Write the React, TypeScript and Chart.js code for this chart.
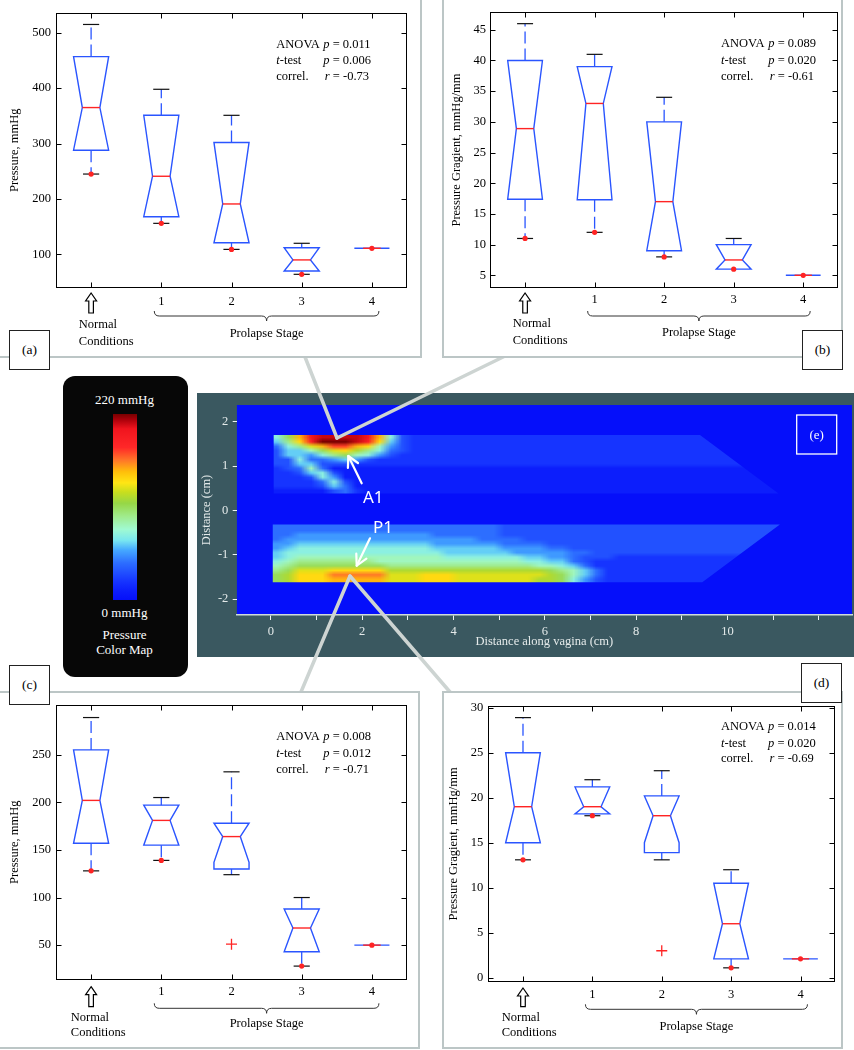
import React, { useEffect, useRef } from 'react';
import { Chart, registerables } from 'chart.js';

Chart.register(...registerables);

const SERIF = '"Liberation Serif", "Times New Roman", Times, serif';
const SANS = '"Noto Sans", "Liberation Sans", Arial, sans-serif';
const FS = 12.5;
const BLUE = '#2a55ff';
const RED = '#ff2424';
const TEAL = '#3a5860';

// ---------------- box-plot data ----------------
const groupPositions = [1, 2, 3, 4, 5];
const groupTickLabels = ['', '1', '2', '3', '4'];
const normalLabelLines = ['Normal', 'Conditions'];
const stageAxisLabel = 'Prolapse Stage';

// (a) anterior peak pressure
const aWhiskerHi = [515, 398, 351, 120, 111];
const aQ3 = [457, 351, 302, 112, 111];
const aNotchHi = [457, 351, 302, 112, 111];
const aMedian = [365, 241, 191, 90, 111];
const aNotchLo = [288, 168, 121, 70, 111];
const aQ1 = [288, 168, 121, 70, 111];
const aWhiskerLo = [245, 156, 109, 64, 111];
const aDots = [245, 156, 109, 64, 111];
const aOutliers = [null, null, null, null, null];
const aYTicks = [100, 200, 300, 400, 500];
const aStats = ['0.011', '0.006', '-0.73'];

// (b) anterior pressure gradient
const bWhiskerHi = [46, 41, 34, 11, 5];
const bQ3 = [40, 39, 30, 10, 5];
const bNotchHi = [40, 39, 30, 10, 5];
const bMedian = [28.9, 33, 17, 7.5, 5];
const bNotchLo = [17.4, 17.3, 9, 6, 5];
const bQ1 = [17.4, 17.3, 9, 6, 5];
const bWhiskerLo = [11, 12, 8, 6, 5];
const bDots = [11, 12, 8, 6, 5];
const bOutliers = [null, null, null, null, null];
const bYTicks = [5, 10, 15, 20, 25, 30, 35, 40, 45];
const bStats = ['0.089', '0.020', '-0.61'];

// (c) posterior peak pressure
const cWhiskerHi = [289, 205, 232, 100, 50];
const cQ3 = [255, 197, 178, 88, 50];
const cNotchHi = [255, 197, 178, 88, 50];
const cMedian = [202, 181, 164, 68, 50];
const cNotchLo = [157, 155, 137, 43, 50];
const cQ1 = [157, 155, 130, 43, 50];
const cWhiskerLo = [128, 139, 124, 28, 50];
const cDots = [128, 139, null, 28, 50];
const cOutliers = [null, null, 51, null, null];
const cYTicks = [50, 100, 150, 200, 250];
const cStats = ['0.008', '0.012', '-0.71'];

// (d) posterior pressure gradient
const dWhiskerHi = [28.9, 22, 23, 12, 2.1];
const dQ3 = [25, 21.2, 20.2, 10.5, 2.1];
const dNotchHi = [25, 21.2, 20.2, 10.5, 2.1];
const dMedian = [19, 19, 18, 6, 2.1];
const dNotchLo = [15, 18.2, 15, 2.1, 2.1];
const dQ1 = [15, 18.2, 13.9, 2.1, 2.1];
const dWhiskerLo = [13.1, 18, 13.1, 1.1, 2.1];
const dDots = [13.1, 18, null, 1.1, 2.1];
const dOutliers = [null, null, 3, null, null];
const dYTicks = [0, 5, 10, 15, 20, 25, 30];
const dStats = ['0.014', '0.020', '-0.69'];

// ---------------- heat map data ----------------
const heatXMin = -0.75, heatXMax = 12.73, heatYMin = -2.36, heatYMax = 2.38;
const heatXTicks = [0, 1, 2, 3, 4, 5, 6, 7, 8, 9, 10, 11, 12];
const heatXTickLabels = ['0', '', '2', '', '4', '', '6', '', '8', '', '10', '', ''];
const heatYTicks = [-2, -1, 0, 1, 2];
// outlines of the two contact bands (cm)
const heatBandUpperX = [0.06, 9.4, 11.12, 0.06];
const heatBandUpperY = [1.7, 1.7, 0.38, 0.38];
const heatBandLowerX = [0.04, 11.15, 9.45, 0.04];
const heatBandLowerY = [-0.32, -0.32, -1.62, -1.62];
const heatGridX0 = 0, heatGridDX = 0.25, heatGridY0 = 1.8, heatGridDY = 0.1;
const heatLevelChars = '0123456789abcdefghijk';
const heatLevelStep = 11; // mmHg per level
const heatMaxValue = 220;
// rows from y=1.8 (top) down to y=-1.8, columns x=0..11.5 (0.25 cm)
const heatRows = [
  '7aeijjjjie 7322222222 2222222222 2222222222 222222',
  '7aeijjjjie 7322222222 2222222222 2222222222 222222',
  '69dhkkkjhd 6322222222 2222222222 2222222222 222222',
  '479cegged8 5322222222 2222222222 2222222222 222222',
  '3668acdb97 4322222222 2222222222 2222222222 222222',
  '366579a875 3222222222 2222222222 2222222222 222222',
  '3374456532 2222222222 2222222222 2222222222 222222',
  '3366333222 2222222222 2222222222 2222222222 222222',
  '2348411111 1111111111 1111111111 1111111111 111111',
  '2236731111 1111111111 1111111111 1111111111 111111',
  '2223751111 1111111111 1111111111 1111111111 111111',
  '2222473111 1111111111 1111111111 1111111111 111111',
  '2222364111 1111111111 1111111111 1111111111 111111',
  '1111134211 1111111111 1111111111 1111111111 111111',
  '1111134211 1111111111 1111111111 1111111111 111111',
  '0000000000 0000000000 0000000000 0000000000 000000',
  '0000000000 0000000000 0000000000 0000000000 000000',
  '0000000000 0000000000 0000000000 0000000000 000000',
  '0000000000 0000000000 0000000000 0000000000 000000',
  '0000000000 0000000000 0000000000 0000000000 000000',
  '4444444444 4444444444 3333333333 3333333333 333333',
  '4444444444 4444444444 3333333333 3333333333 333333',
  '4444444444 4444444444 3333333333 3333333333 333333',
  '4455555555 5555444444 3333333333 3333333333 333333',
  '4555555555 5555555544 4433333333 3333333333 333333',
  '5566666666 6666555555 4444333333 3333333333 333333',
  '5677777777 7777666666 5555443333 3333333333 333333',
  '6777777777 7777766666 6555554433 3333333333 333333',
  '6788888888 8888877777 7766554333 2222222222 222222',
  '7899999998 8888888888 8877664322 2222222222 222222',
  '89aaaaaaaa 9999999999 9998876422 2222222222 222222',
  '9acccddddd bbbbbbbbbb bbbba98642 2222222222 222222',
  'abdddfffff cccdddcccc ccccba8642 2222222222 222222',
  'abdddeeeee cccdddcccc cccbba7532 2222222222 222222',
  'abdddeeeee cccdddcccc cccbba7532 2222222222 222222',
  '0000000000 0000000000 0000000000 0000000000 000000',
];

// colour map (fraction of 220 mmHg -> rgb)
const cmapStops = [0, 0.05, 0.1, 0.2, 0.27, 0.32, 0.38, 0.45, 0.52, 0.58, 0.63, 0.69, 0.75, 0.82, 0.92, 0.97, 1];
const cmapColors = [
  [5, 15, 250], [12, 30, 252], [22, 52, 255], [45, 110, 255], [70, 170, 255], [120, 230, 240],
  [160, 250, 210], [160, 235, 140], [150, 215, 70], [200, 222, 30], [255, 230, 20], [255, 190, 10],
  [255, 120, 40], [255, 40, 40], [240, 20, 30], [170, 0, 10], [120, 0, 0],
];

function cmap(t: number): number[] {
  const tt = Math.max(0, Math.min(1, t));
  for (let i = 1; i < cmapStops.length; i++) {
    if (tt <= cmapStops[i]) {
      const f = (tt - cmapStops[i - 1]) / (cmapStops[i] - cmapStops[i - 1]);
      const a = cmapColors[i - 1], b = cmapColors[i];
      return [a[0] + (b[0] - a[0]) * f, a[1] + (b[1] - a[1]) * f, a[2] + (b[2] - a[2]) * f];
    }
  }
  return cmapColors[cmapColors.length - 1];
}

// ---------------- panels ----------------
const panelA = {
  whiskerHi: aWhiskerHi, q3: aQ3, notchHi: aNotchHi, median: aMedian, notchLo: aNotchLo, q1: aQ1,
  whiskerLo: aWhiskerLo, dots: aDots, outliers: aOutliers, yTicks: aYTicks, stats: aStats,
  yMin: 39.3, yMax: 536.6, yTitle: 'Pressure, mmHg',
};
const panelB = {
  whiskerHi: bWhiskerHi, q3: bQ3, notchHi: bNotchHi, median: bMedian, notchLo: bNotchLo, q1: bQ1,
  whiskerLo: bWhiskerLo, dots: bDots, outliers: bOutliers, yTicks: bYTicks, stats: bStats,
  yMin: 2.93, yMax: 47.9, yTitle: 'Pressure Gragient, mmHg/mm',
};
const panelC = {
  whiskerHi: cWhiskerHi, q3: cQ3, notchHi: cNotchHi, median: cMedian, notchLo: cNotchLo, q1: cQ1,
  whiskerLo: cWhiskerLo, dots: cDots, outliers: cOutliers, yTicks: cYTicks, stats: cStats,
  yMin: 13.4, yMax: 302.7, yTitle: 'Pressure, mmHg',
};
const panelD = {
  whiskerHi: dWhiskerHi, q3: dQ3, notchHi: dNotchHi, median: dMedian, notchLo: dNotchLo, q1: dQ1,
  whiskerLo: dWhiskerLo, dots: dDots, outliers: dOutliers, yTicks: dYTicks, stats: dStats,
  yMin: -0.44, yMax: 30.19, yTitle: 'Pressure Gragient, mmHg/mm',
};

const geomA = { x: 0, y: 0, w: 421, h: 357, yAxisW: 56, padTop: 12, padRight: 14, xAxisH: 69, xLabelPad: 6.5, yLabelPad: 5, yTitlePad: 7.5,
  normalDX: -12.3, normalY1: 37, normalY2: 53.7, arrowTop: 5, arrowBot: 25, braceY: 28, prolY: 45.3, statsXA: 276.3, statsXP: 323.3, statsY: [44.3, 60.7, 77] };
const geomB = { x: 443, y: 0, w: 399, h: 357, yAxisW: 47.3, padTop: 12, padRight: 0.5, xAxisH: 69, xLabelPad: 4.5, yLabelPad: 4.3, yTitlePad: 6.2,
  normalDX: -12.4, normalY1: 36, normalY2: 53, arrowTop: 5, arrowBot: 25, braceY: 28, prolY: 45, statsXA: 278, statsXP: 325.3, statsY: [44, 61, 77] };
const geomC = { x: 0, y: 692, w: 419, h: 356, yAxisW: 56, padTop: 11.3, padRight: 12, xAxisH: 68, xLabelPad: 4.2, yLabelPad: 5, yTitlePad: 7.5,
  normalDX: -20.3, normalY1: 37.3, normalY2: 52.7, arrowTop: 6.7, arrowBot: 26.7, braceY: 28.3, prolY: 43.3, statsXA: 276.3, statsXP: 323.3, statsY: [44.7, 61.3, 77.3] };
const geomD = { x: 443, y: 692, w: 399, h: 356, yAxisW: 45.3, padTop: 14, padRight: 2, xAxisH: 66.3, xLabelPad: 5.1, yLabelPad: 5, yTitlePad: 3.5,
  normalDX: -21.3, normalY1: 35.6, normalY2: 51, arrowTop: 6.3, arrowBot: 25, braceY: 27.6, prolY: 45, statsXA: 278, statsXP: 325, statsY: [34.7, 51.3, 67] };

function drawSegs(ctx: CanvasRenderingContext2D, segs: [string, boolean][], x: number, y: number) {
  let cx = x;
  for (const [t, it] of segs) {
    ctx.font = `${it ? 'italic ' : ''}${FS}px ${SERIF}`;
    ctx.fillText(t, cx, y);
    cx += ctx.measureText(t).width;
  }
}

function boxPlugin(d: any, g: any) {
  return {
    id: 'notchedBoxes',
    beforeDatasetsDraw(chart: any) {
      const { ctx, scales } = chart;
      const xs = scales.x, ys = scales.y;
      const unit = xs.getPixelForValue(2) - xs.getPixelForValue(1);
      const hw = unit * 0.25;
      const capHw = unit * 0.115;
      ctx.save();
      for (let i = 0; i < d.q3.length; i++) {
        const cx = xs.getPixelForValue(groupPositions[i]);
        const pHi = ys.getPixelForValue(d.whiskerHi[i]);
        const pQ3 = ys.getPixelForValue(d.q3[i]);
        const pNHi = ys.getPixelForValue(d.notchHi[i]);
        const pMed = ys.getPixelForValue(d.median[i]);
        const pNLo = ys.getPixelForValue(d.notchLo[i]);
        const pQ1 = ys.getPixelForValue(d.q1[i]);
        const pLo = ys.getPixelForValue(d.whiskerLo[i]);
        // whiskers
        ctx.strokeStyle = BLUE;
        ctx.lineWidth = 1.3;
        ctx.setLineDash([12, 5]);
        if (d.whiskerHi[i] > d.q3[i]) { ctx.beginPath(); ctx.moveTo(cx, pQ3); ctx.lineTo(cx, pHi); ctx.stroke(); }
        if (d.whiskerLo[i] < d.q1[i]) { ctx.beginPath(); ctx.moveTo(cx, pQ1); ctx.lineTo(cx, pLo); ctx.stroke(); }
        ctx.setLineDash([]);
        // caps
        ctx.strokeStyle = '#111';
        ctx.lineWidth = 1.2;
        if (d.whiskerHi[i] > d.q3[i]) { ctx.beginPath(); ctx.moveTo(cx - capHw, pHi); ctx.lineTo(cx + capHw, pHi); ctx.stroke(); }
        if (d.whiskerLo[i] < d.q1[i]) { ctx.beginPath(); ctx.moveTo(cx - capHw, pLo); ctx.lineTo(cx + capHw, pLo); ctx.stroke(); }
        // notched box
        ctx.strokeStyle = BLUE;
        ctx.lineWidth = 1.4;
        ctx.beginPath();
        ctx.moveTo(cx - hw, pQ3);
        ctx.lineTo(cx + hw, pQ3);
        ctx.lineTo(cx + hw, pNHi);
        ctx.lineTo(cx + hw / 2, pMed);
        ctx.lineTo(cx + hw, pNLo);
        ctx.lineTo(cx + hw, pQ1);
        ctx.lineTo(cx - hw, pQ1);
        ctx.lineTo(cx - hw, pNLo);
        ctx.lineTo(cx - hw / 2, pMed);
        ctx.lineTo(cx - hw, pNHi);
        ctx.closePath();
        ctx.stroke();
        // median
        ctx.strokeStyle = RED;
        ctx.lineWidth = 1.4;
        ctx.beginPath();
        ctx.moveTo(cx - hw / 2, pMed);
        ctx.lineTo(cx + hw / 2, pMed);
        ctx.stroke();
      }
      ctx.restore();
    },
    afterDraw(chart: any) {
      const { ctx, chartArea: ca, scales } = chart;
      const xs = scales.x, ys = scales.y;
      ctx.save();
      ctx.strokeStyle = '#000';
      ctx.lineWidth = 1;
      ctx.setLineDash([]);
      const L = Math.round(ca.left) + 0.5, R = Math.round(ca.right) - 0.5;
      const T = Math.round(ca.top) + 0.5, B = Math.round(ca.bottom) - 0.5;
      ctx.strokeRect(L, T, R - L, B - T);
      ctx.beginPath();
      for (const v of d.yTicks) {
        const py = Math.round(ys.getPixelForValue(v)) + 0.5;
        ctx.moveTo(L, py); ctx.lineTo(L + 5, py);
        ctx.moveTo(R, py); ctx.lineTo(R - 5, py);
      }
      for (const v of groupPositions) {
        const px = Math.round(xs.getPixelForValue(v)) + 0.5;
        ctx.moveTo(px, B); ctx.lineTo(px, B - 5);
        ctx.moveTo(px, T); ctx.lineTo(px, T + 5);
      }
      ctx.stroke();

      const bottom = ca.bottom;
      // outline arrow under "Normal Conditions"
      const ax = xs.getPixelForValue(groupPositions[0]);
      const top = bottom + g.arrowTop, bot = bottom + g.arrowBot, hb = top + 8;
      ctx.beginPath();
      ctx.moveTo(ax, top);
      ctx.lineTo(ax + 5.5, hb);
      ctx.lineTo(ax + 2.3, hb);
      ctx.lineTo(ax + 2.3, bot);
      ctx.lineTo(ax - 2.3, bot);
      ctx.lineTo(ax - 2.3, hb);
      ctx.lineTo(ax - 5.5, hb);
      ctx.closePath();
      ctx.fillStyle = '#fff';
      ctx.fill();
      ctx.lineWidth = 1.2;
      ctx.strokeStyle = '#000';
      ctx.stroke();

      // brace under stages
      const unit = xs.getPixelForValue(2) - xs.getPixelForValue(1);
      const bl = xs.getPixelForValue(groupPositions[1]) - 0.1 * unit;
      const br = xs.getPixelForValue(groupPositions[4]) + 0.1 * unit;
      const bm = xs.getPixelForValue(3.5);
      const by = bottom + g.braceY;
      ctx.beginPath();
      ctx.moveTo(bl, by - 5);
      ctx.quadraticCurveTo(bl, by, bl + 5, by);
      ctx.lineTo(bm - 5, by);
      ctx.quadraticCurveTo(bm, by, bm, by + 5);
      ctx.quadraticCurveTo(bm, by, bm + 5, by);
      ctx.lineTo(br - 5, by);
      ctx.quadraticCurveTo(br, by, br, by - 5);
      ctx.lineWidth = 1;
      ctx.strokeStyle = '#333';
      ctx.stroke();

      ctx.fillStyle = '#000';
      ctx.textBaseline = 'middle';
      ctx.font = `${FS}px ${SERIF}`;
      ctx.textAlign = 'left';
      ctx.fillText(normalLabelLines[0], ax + g.normalDX, bottom + g.normalY1);
      ctx.fillText(normalLabelLines[1], ax + g.normalDX, bottom + g.normalY2);
      ctx.textAlign = 'center';
      ctx.fillText(stageAxisLabel, bm, bottom + g.prolY);

      // statistics
      ctx.textAlign = 'left';
      drawSegs(ctx, [['ANOVA', false]], g.statsXA, g.statsY[0]);
      drawSegs(ctx, [['p', true], [' = ' + d.stats[0], false]], g.statsXP, g.statsY[0]);
      drawSegs(ctx, [['t', true], ['-test', false]], g.statsXA, g.statsY[1]);
      drawSegs(ctx, [['p', true], [' = ' + d.stats[1], false]], g.statsXP, g.statsY[1]);
      drawSegs(ctx, [['correl.', false]], g.statsXA, g.statsY[2]);
      drawSegs(ctx, [['r', true], [' = ' + d.stats[2], false]], g.statsXP + 1.5, g.statsY[2]);
      ctx.restore();
    },
  };
}

function makeBoxConfig(d: any, g: any): any {
  const dots = d.dots.map((v: any, i: number) => (v == null ? null : { x: groupPositions[i], y: v })).filter((p: any) => p);
  const outs = d.outliers.map((v: any, i: number) => (v == null ? null : { x: groupPositions[i], y: v })).filter((p: any) => p);
  return {
    type: 'scatter',
    data: {
      datasets: [
        { label: 'marker', data: dots, pointRadius: 2.6, pointBackgroundColor: RED, pointBorderColor: RED, pointBorderWidth: 0, showLine: false },
        { label: 'outlier', data: outs, pointStyle: 'cross', pointRadius: 5.5, pointBackgroundColor: RED, pointBorderColor: RED, pointBorderWidth: 1.3, showLine: false },
      ],
    },
    options: {
      animation: false,
      responsive: false,
      devicePixelRatio: 1,
      events: [],
      layout: { padding: { left: 0, top: g.padTop, right: g.padRight, bottom: 0 } },
      plugins: { legend: { display: false }, tooltip: { enabled: false } },
      scales: {
        x: {
          type: 'linear', position: 'bottom', min: 0.5, max: 5.5,
          grid: { display: false, drawTicks: false, tickLength: 0 }, border: { display: false },
          afterBuildTicks: (s: any) => { s.ticks = groupPositions.map((v) => ({ value: v })); },
          ticks: {
            autoSkip: false, maxRotation: 0, minRotation: 0, padding: g.xLabelPad, color: '#000',
            font: { family: SERIF, size: FS },
            callback: (_v: any, i: number) => groupTickLabels[i] ?? '',
          },
          afterFit: (s: any) => { s.height = g.xAxisH; },
        },
        y: {
          type: 'linear', position: 'left', min: d.yMin, max: d.yMax,
          grid: { display: false, drawTicks: false, tickLength: 0 }, border: { display: false },
          afterBuildTicks: (s: any) => { s.ticks = d.yTicks.map((v: number) => ({ value: v })); },
          ticks: { autoSkip: false, padding: g.yLabelPad, color: '#000', font: { family: SERIF, size: FS }, callback: (v: any) => String(v) },
          title: { display: true, text: d.yTitle, color: '#000', font: { family: SERIF, size: FS }, padding: { top: g.yTitlePad, bottom: 0 } },
          afterFit: (s: any) => { s.width = g.yAxisW; },
        },
      },
    },
    plugins: [boxPlugin(d, g)],
  };
}

function ChartCanvas({ x, y, w, h, make }: { x: number; y: number; w: number; h: number; make: () => any }) {
  const ref = useRef<HTMLCanvasElement | null>(null);
  useEffect(() => {
    const chart = new Chart(ref.current as HTMLCanvasElement, make());
    return () => chart.destroy();
  }, []);
  return <canvas ref={ref} width={w} height={h} style={{ position: 'absolute', left: x, top: y, width: w, height: h }} />;
}

const heatPlugin = {
  id: 'heatField',
  beforeDraw(chart: any) {
    const { ctx, chartArea: ca, scales } = chart;
    if (!ca) return;
    const xs = scales.x, ys = scales.y;
    ctx.save();
    ctx.beginPath();
    ctx.rect(ca.left, ca.top, ca.right - ca.left, ca.bottom - ca.top);
    ctx.clip();
    const bg = cmap(0);
    ctx.fillStyle = `rgb(${bg.map((v) => Math.round(v)).join(',')})`;
    ctx.fillRect(ca.left, ca.top, ca.right - ca.left, ca.bottom - ca.top);
    // clip to the two band outlines
    ctx.beginPath();
    for (const [bx, by] of [[heatBandUpperX, heatBandUpperY], [heatBandLowerX, heatBandLowerY]]) {
      bx.forEach((vx: number, i: number) => {
        const px = xs.getPixelForValue(vx), py = ys.getPixelForValue(by[i]);
        if (i === 0) ctx.moveTo(px, py); else ctx.lineTo(px, py);
      });
      ctx.closePath();
    }
    ctx.clip();
    const rows = heatRows.map((r) => r.replace(/ /g, ''));
    const nr = rows.length, nc = rows[0].length;
    const off = document.createElement('canvas');
    off.width = nc; off.height = nr;
    const octx = off.getContext('2d') as CanvasRenderingContext2D;
    const img = octx.createImageData(nc, nr);
    for (let r = 0; r < nr; r++) {
      for (let c = 0; c < nc; c++) {
        const lv = Math.max(0, heatLevelChars.indexOf(rows[r][c]));
        const col = cmap((lv * heatLevelStep) / heatMaxValue);
        const k = (r * nc + c) * 4;
        img.data[k] = col[0]; img.data[k + 1] = col[1]; img.data[k + 2] = col[2]; img.data[k + 3] = 255;
      }
    }
    octx.putImageData(img, 0, 0);
    const px0 = xs.getPixelForValue(heatGridX0);
    const px1 = xs.getPixelForValue(heatGridX0 + nc * heatGridDX);
    const py0 = ys.getPixelForValue(heatGridY0);
    const py1 = ys.getPixelForValue(heatGridY0 - nr * heatGridDY);
    ctx.imageSmoothingEnabled = true;
    ctx.drawImage(off, px0, py0, px1 - px0, py1 - py0);
    ctx.restore();
  },
};

function makeHeatConfig(): any {
  const tickColor = '#e4eaea';
  return {
    type: 'scatter',
    data: { datasets: [{ data: [] }] },
    options: {
      animation: false, responsive: false, devicePixelRatio: 1, events: [],
      layout: { padding: { left: 0, top: 8, right: 2, bottom: 0 } },
      plugins: { legend: { display: false }, tooltip: { enabled: false } },
      scales: {
        x: {
          type: 'linear', min: heatXMin, max: heatXMax,
          grid: { display: true, drawOnChartArea: false, drawTicks: true, tickLength: 5, color: '#eef2f2' },
          border: { display: true, color: '#cfdada', width: 1.5 },
          afterBuildTicks: (s: any) => { s.ticks = heatXTicks.map((v) => ({ value: v })); },
          ticks: { autoSkip: false, maxRotation: 0, padding: 4.2, color: tickColor, font: { family: SERIF, size: FS }, callback: (_v: any, i: number) => heatXTickLabels[i] ?? '' },
          title: { display: true, text: 'Distance along vagina (cm)', color: tickColor, font: { family: SERIF, size: FS }, padding: { top: 0, bottom: 7.5 } },
          afterFit: (s: any) => { s.height = 42; },
        },
        y: {
          type: 'linear', min: heatYMin, max: heatYMax,
          grid: { display: true, drawOnChartArea: false, drawTicks: true, tickLength: 4, color: '#eef2f2' },
          border: { display: false },
          afterBuildTicks: (s: any) => { s.ticks = heatYTicks.map((v) => ({ value: v })); },
          ticks: { autoSkip: false, padding: 4.4, color: tickColor, font: { family: SERIF, size: FS }, callback: (v: any) => String(v) },
          title: { display: true, text: 'Distance (cm)', color: tickColor, font: { family: SERIF, size: FS }, padding: { top: 2.2, bottom: 0 } },
          afterFit: (s: any) => { s.width = 39.7; },
        },
      },
    },
    plugins: [heatPlugin],
  };
}

function makeColorBarConfig(): any {
  return {
    type: 'bar',
    data: {
      labels: ['Pressure'],
      datasets: [{
        data: [[0, heatMaxValue]],
        borderWidth: 0,
        barPercentage: 1,
        categoryPercentage: 1,
        backgroundColor: (c: any) => {
          const ch = c.chart;
          const ys = ch.scales && ch.scales.y;
          if (!ys || !ch.chartArea) return 'rgb(255,0,0)';
          const grad = ch.ctx.createLinearGradient(0, ys.getPixelForValue(0), 0, ys.getPixelForValue(heatMaxValue));
          cmapStops.forEach((s, i) => {
            const col = cmapColors[i];
            grad.addColorStop(s, `rgb(${col[0]},${col[1]},${col[2]})`);
          });
          return grad;
        },
      }],
    },
    options: {
      animation: false, responsive: false, devicePixelRatio: 1, events: [],
      layout: { padding: 0 },
      plugins: { legend: { display: false }, tooltip: { enabled: false } },
      scales: { x: { display: false }, y: { display: false, min: 0, max: heatMaxValue } },
    },
  };
}

const legendTextStyle = (top: number): React.CSSProperties => ({
  position: 'absolute', left: 62, width: 125, top, height: 16, lineHeight: '16px', textAlign: 'center',
  color: '#fff', fontFamily: SERIF, fontSize: 13,
});

function LabelBox({ x, y, w, h, text }: { x: number; y: number; w: number; h: number; text: string }) {
  return (
    <div style={{ position: 'absolute', left: x, top: y, width: w, height: h, boxSizing: 'border-box', border: '1px solid #222', background: '#fff',
      display: 'flex', alignItems: 'center', justifyContent: 'center', fontFamily: SERIF, fontSize: 13.5, color: '#000' }}>{text}</div>
  );
}

function PanelFrame({ x, y, w, h }: { x: number; y: number; w: number; h: number }) {
  return <div style={{ position: 'absolute', left: x, top: y, width: w, height: h, boxSizing: 'border-box', border: '2px solid #bcc6c6', background: '#fff' }} />;
}

export default function App() {
  return (
    <div style={{ position: 'absolute', left: 0, top: 0, width: 854, height: 1050, background: '#fff', overflow: 'hidden' }}>
      {/* colour map legend */}
      <div style={{ position: 'absolute', left: 63, top: 376, width: 125, height: 301, background: '#070707', borderRadius: 12 }} />
      <ChartCanvas x={113} y={414} w={24} h={186} make={makeColorBarConfig} />
      <div style={legendTextStyle(392)}>220 mmHg</div>
      <div style={legendTextStyle(605)}>0 mmHg</div>
      <div style={legendTextStyle(627)}>Pressure</div>
      <div style={legendTextStyle(642)}>Color Map</div>

      {/* heat map */}
      <div style={{ position: 'absolute', left: 197, top: 393, width: 657, height: 264, background: TEAL }} />
      <ChartCanvas x={197} y={393} w={657} h={264} make={makeHeatConfig} />

      <svg width={854} height={1050} style={{ position: 'absolute', left: 0, top: 0, pointerEvents: 'none' }}>
        <g stroke="#cdd4d2" strokeWidth={3.5} strokeLinecap="round">
          <line x1={298.3} y1={340} x2={337} y2={438} />
          <line x1={527.6} y1={345} x2={337} y2={438} />
          <line x1={350} y1={576} x2={297.6} y2={700} />
          <line x1={350} y1={576} x2={456.9} y2={700} />
        </g>
        <g stroke="#fff" strokeWidth={2.2} fill="none" strokeLinecap="round" strokeLinejoin="round">
          <line x1={361.7} y1={483.3} x2={348.3} y2={456} />
          <polyline points="347.9,468 348.3,456 358,463" />
          <line x1={370} y1={538.3} x2={356.7} y2={565.7} />
          <polyline points="366.4,558.6 356.7,565.7 356.3,553.7" />
        </g>
        <text x={363} y={503} fill="#fff" fontFamily={SANS} fontSize={17}>A1</text>
        <text x={373} y={533} fill="#fff" fontFamily={SANS} fontSize={17}>P1</text>
        <rect x={796.7} y={415} width={40} height={39} fill="none" stroke="#fff" strokeWidth={1.3} />
        <text x={816.7} y={439} fill="#fff" fontFamily={SERIF} fontSize={13} textAnchor="middle">(e)</text>
      </svg>

      {/* box-plot panels */}
      <PanelFrame x={-2} y={-2} w={424} h={360} />
      <ChartCanvas x={geomA.x} y={geomA.y} w={geomA.w} h={geomA.h} make={() => makeBoxConfig(panelA, geomA)} />
      <LabelBox x={9} y={330} w={41} h={40} text="(a)" />

      <PanelFrame x={442} y={-2} w={401} h={360} />
      <ChartCanvas x={geomB.x} y={geomB.y} w={geomB.w} h={geomB.h} make={() => makeBoxConfig(panelB, geomB)} />
      <LabelBox x={802} y={330} w={41} h={40} text="(b)" />

      <PanelFrame x={-2} y={691} w={422} h={358} />
      <ChartCanvas x={geomC.x} y={geomC.y} w={geomC.w} h={geomC.h} make={() => makeBoxConfig(panelC, geomC)} />
      <LabelBox x={9} y={665} w={41} h={40} text="(c)" />

      <PanelFrame x={442} y={691} w={401} h={358} />
      <ChartCanvas x={geomD.x} y={geomD.y} w={geomD.w} h={geomD.h} make={() => makeBoxConfig(panelD, geomD)} />
      <LabelBox x={801} y={663} w={41} h={40} text="(d)" />
    </div>
  );
}
